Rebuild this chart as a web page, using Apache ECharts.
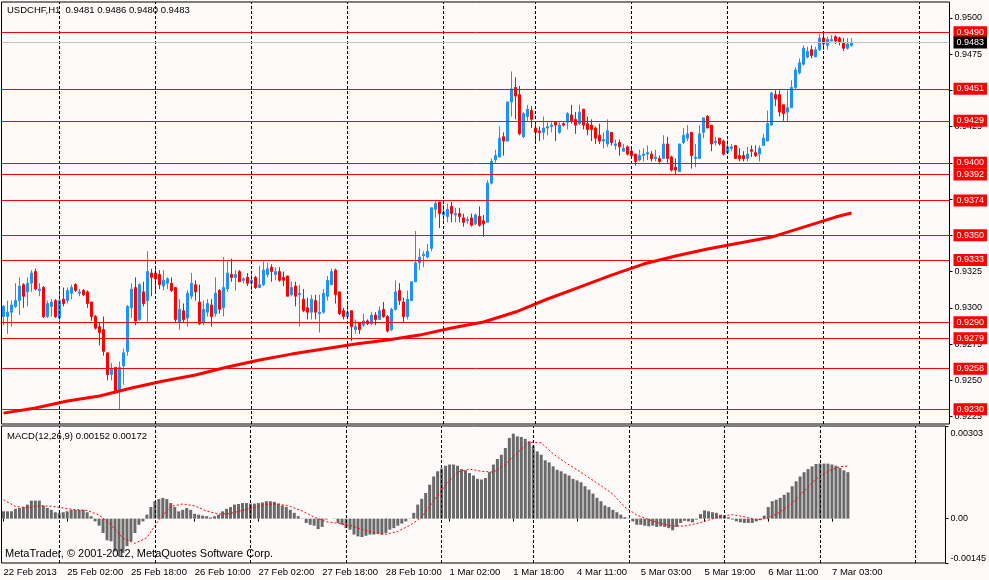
<!DOCTYPE html>
<html><head><meta charset="utf-8">
<script src="https://cdn.jsdelivr.net/npm/echarts@6/dist/echarts.min.js"></script>
<style>html,body{margin:0;padding:0;background:#FFFAFA;}#c{width:989px;height:580px;}</style>
</head><body><div id="c"></div>
<script>
// x tick labels (one every 16 hourly bars)
const tickLabels = ['22 Feb 2013','25 Feb 02:00','25 Feb 18:00','26 Feb 10:00','27 Feb 02:00','27 Feb 18:00','28 Feb 10:00','1 Mar 02:00','1 Mar 18:00','4 Mar 11:00','5 Mar 03:00','5 Mar 19:00','6 Mar 11:00','7 Mar 03:00'];
// right price axis ticks
const priceTicks = [0.9225,0.9250,0.9275,0.9300,0.9325,0.9350,0.9375,0.9400,0.9425,0.9450,0.9475,0.9500];
// horizontal levels
const levels = [0.9490,0.9451,0.9429,0.9400,0.9392,0.9374,0.9350,0.9333,0.9290,0.9279,0.9258,0.9230];
const bidPrice = 0.9483;
// MACD axis ticks
const macdTicks = [0.00303, 0, -0.00145];
// vertical grid bar slots
const gridLineIdx = [14,38,62,86,110,133,157,181,205,229];

// H1 candles: [open, close, low, high]
const ohlc = [
[0.9294,0.9301,0.9288,0.9302],[0.9294,0.9297,0.9282,0.9305],[0.9297,0.9302,0.9287,0.9305],[0.9301,0.9305,0.9300,0.9317],[0.9305,0.9315,0.9295,0.9321],
[0.9316,0.9308,0.9300,0.9317],[0.9311,0.9317,0.9301,0.9321],[0.9317,0.9324,0.9311,0.9326],[0.9325,0.9313,0.9312,0.9327],[0.9312,0.9313,0.9308,0.9317],
[0.9314,0.9294,0.9293,0.9315],[0.9294,0.9303,0.9293,0.9305],[0.9301,0.9304,0.9294,0.9306],[0.9305,0.9294,0.9293,0.9306],[0.9293,0.9305,0.9290,0.9314],
[0.9306,0.9303,0.9301,0.9314],[0.9305,0.9312,0.9303,0.9314],[0.9310,0.9314,0.9306,0.9316],[0.9316,0.9312,0.9311,0.9317],[0.9310,0.9311,0.9308,0.9313],
[0.9312,0.9309,0.9308,0.9313],[0.9311,0.9303,0.9300,0.9312],[0.9304,0.9294,0.9291,0.9304],[0.9294,0.9286,0.9285,0.9295],[0.9287,0.9283,0.9274,0.9290],
[0.9285,0.9270,0.9267,0.9294],[0.9269,0.9254,0.9250,0.9269],[0.9254,0.9258,0.9250,0.9262],[0.9259,0.9242,0.9241,0.9259],[0.9243,0.9259,0.9230,0.9263],
[0.9260,0.9269,0.9247,0.9272],[0.9270,0.9301,0.9267,0.9302],[0.9300,0.9313,0.9293,0.9317],[0.9314,0.9291,0.9288,0.9321],[0.9292,0.9316,0.9291,0.9317],
[0.9311,0.9303,0.9301,0.9318],[0.9305,0.9325,0.9290,0.9339],[0.9324,0.9321,0.9308,0.9327],[0.9324,0.9320,0.9311,0.9328],[0.9323,0.9316,0.9313,0.9326],
[0.9315,0.9319,0.9312,0.9326],[0.9317,0.9320,0.9313,0.9321],[0.9317,0.9312,0.9311,0.9321],[0.9314,0.9292,0.9290,0.9314],[0.9290,0.9299,0.9285,0.9306],
[0.9298,0.9292,0.9290,0.9303],[0.9293,0.9310,0.9287,0.9312],[0.9308,0.9317,0.9306,0.9324],[0.9316,0.9311,0.9305,0.9319],[0.9304,0.9289,0.9288,0.9316],
[0.9290,0.9299,0.9288,0.9305],[0.9297,0.9303,0.9294,0.9306],[0.9302,0.9294,0.9287,0.9306],[0.9296,0.9310,0.9294,0.9321],[0.9312,0.9299,0.9296,0.9313],
[0.9300,0.9314,0.9294,0.9335],[0.9313,0.9324,0.9311,0.9332],[0.9323,0.9321,0.9318,0.9334],[0.9321,0.9323,0.9312,0.9326],[0.9325,0.9318,0.9318,0.9326],
[0.9319,0.9320,0.9317,0.9321],[0.9321,0.9317,0.9315,0.9324],[0.9317,0.9319,0.9312,0.9323],[0.9321,0.9314,0.9313,0.9322],[0.9314,0.9316,0.9314,0.9329],
[0.9316,0.9326,0.9315,0.9332],[0.9323,0.9327,0.9321,0.9331],[0.9328,0.9325,0.9318,0.9330],[0.9323,0.9325,0.9319,0.9328],[0.9325,0.9319,0.9318,0.9328],
[0.9321,0.9319,0.9315,0.9325],[0.9322,0.9308,0.9308,0.9322],[0.9309,0.9314,0.9308,0.9318],[0.9315,0.9308,0.9301,0.9318],[0.9309,0.9310,0.9287,0.9316],
[0.9306,0.9298,0.9297,0.9313],[0.9300,0.9297,0.9292,0.9307],[0.9297,0.9306,0.9292,0.9309],[0.9305,0.9297,0.9292,0.9309],[0.9296,0.9297,0.9283,0.9309],
[0.9297,0.9310,0.9296,0.9313],[0.9308,0.9319,0.9305,0.9322],[0.9316,0.9325,0.9316,0.9327],[0.9326,0.9309,0.9303,0.9327],[0.9311,0.9296,0.9295,0.9311],
[0.9298,0.9294,0.9292,0.9300],[0.9294,0.9297,0.9293,0.9304],[0.9298,0.9287,0.9277,0.9298],[0.9285,0.9287,0.9282,0.9292],[0.9290,0.9285,0.9282,0.9290],
[0.9288,0.9291,0.9287,0.9296],[0.9291,0.9289,0.9288,0.9292],[0.9289,0.9295,0.9288,0.9297],[0.9295,0.9292,0.9288,0.9297],[0.9292,0.9298,0.9292,0.9301],
[0.9299,0.9294,0.9293,0.9304],[0.9294,0.9284,0.9283,0.9295],[0.9285,0.9299,0.9284,0.9300],[0.9299,0.9311,0.9298,0.9319],[0.9312,0.9305,0.9302,0.9317],
[0.9304,0.9294,0.9290,0.9307],[0.9294,0.9306,0.9292,0.9312],[0.9305,0.9318,0.9305,0.9318],[0.9318,0.9331,0.9318,0.9353],[0.9331,0.9335,0.9326,0.9341],
[0.9336,0.9337,0.9328,0.9339],[0.9335,0.9339,0.9334,0.9344],[0.9341,0.9369,0.9339,0.9369],[0.9368,0.9372,0.9362,0.9374],[0.9373,0.9365,0.9355,0.9373],
[0.9364,0.9366,0.9359,0.9371],[0.9363,0.9368,0.9359,0.9372],[0.9370,0.9365,0.9359,0.9373],[0.9364,0.9365,0.9359,0.9369],[0.9365,0.9363,0.9359,0.9369],
[0.9362,0.9359,0.9356,0.9365],[0.9360,0.9361,0.9358,0.9363],[0.9362,0.9357,0.9356,0.9365],[0.9358,0.9364,0.9357,0.9365],[0.9363,0.9357,0.9356,0.9370],
[0.9360,0.9358,0.9349,0.9364],[0.9359,0.9386,0.9359,0.9388],[0.9386,0.9401,0.9385,0.9403],[0.9402,0.9405,0.9400,0.9409],[0.9404,0.9417,0.9404,0.9425],
[0.9418,0.9415,0.9405,0.9421],[0.9415,0.9442,0.9415,0.9442],[0.9442,0.9451,0.9432,0.9463],[0.9452,0.9446,0.9430,0.9459],[0.9447,0.9420,0.9419,0.9453],
[0.9418,0.9434,0.9417,0.9435],[0.9432,0.9437,0.9429,0.9440],[0.9436,0.9430,0.9424,0.9439],[0.9424,0.9421,0.9415,0.9428],[0.9422,0.9421,0.9415,0.9425],
[0.9421,0.9424,0.9416,0.9432],[0.9424,0.9425,0.9419,0.9428],[0.9425,0.9426,0.9421,0.9428],[0.9428,0.9426,0.9415,0.9428],[0.9421,0.9426,0.9420,0.9428],
[0.9427,0.9426,0.9425,0.9428],[0.9428,0.9434,0.9423,0.9435],[0.9433,0.9429,0.9427,0.9440],[0.9430,0.9426,0.9420,0.9435],[0.9427,0.9435,0.9426,0.9440],
[0.9437,0.9426,0.9423,0.9437],[0.9427,0.9423,0.9419,0.9432],[0.9426,0.9423,0.9415,0.9430],[0.9424,0.9417,0.9413,0.9425],[0.9419,0.9415,0.9413,0.9427],
[0.9415,0.9416,0.9410,0.9421],[0.9413,0.9422,0.9411,0.9430],[0.9421,0.9414,0.9412,0.9421],[0.9412,0.9413,0.9409,0.9416],[0.9414,0.9411,0.9405,0.9416],
[0.9408,0.9410,0.9408,0.9413],[0.9411,0.9406,0.9405,0.9412],[0.9408,0.9405,0.9404,0.9410],[0.9406,0.9401,0.9398,0.9406],[0.9402,0.9405,0.9401,0.9409],
[0.9405,0.9406,0.9401,0.9410],[0.9406,0.9407,0.9402,0.9412],[0.9406,0.9403,0.9401,0.9408],[0.9403,0.9404,0.9401,0.9409],[0.9403,0.9401,0.9399,0.9405],
[0.9403,0.9413,0.9403,0.9419],[0.9413,0.9403,0.9400,0.9418],[0.9404,0.9395,0.9394,0.9405],[0.9397,0.9395,0.9392,0.9403],[0.9394,0.9413,0.9394,0.9413],
[0.9414,0.9419,0.9413,0.9424],[0.9417,0.9420,0.9415,0.9426],[0.9421,0.9405,0.9396,0.9421],[0.9403,0.9404,0.9397,0.9413],[0.9403,0.9420,0.9403,0.9426],
[0.9421,0.9431,0.9417,0.9431],[0.9432,0.9424,0.9424,0.9433],[0.9426,0.9413,0.9408,0.9426],[0.9414,0.9415,0.9412,0.9418],[0.9417,0.9413,0.9412,0.9417],
[0.9415,0.9406,0.9405,0.9416],[0.9407,0.9411,0.9406,0.9416],[0.9410,0.9411,0.9408,0.9413],[0.9412,0.9403,0.9403,0.9412],[0.9405,0.9403,0.9401,0.9410],
[0.9405,0.9403,0.9401,0.9408],[0.9403,0.9406,0.9401,0.9411],[0.9409,0.9408,0.9404,0.9412],[0.9407,0.9405,0.9404,0.9412],[0.9406,0.9410,0.9401,0.9412],
[0.9412,0.9417,0.9412,0.9420],[0.9415,0.9427,0.9415,0.9436],[0.9426,0.9448,0.9426,0.9449],[0.9447,0.9444,0.9439,0.9450],[0.9447,0.9435,0.9432,0.9450],
[0.9440,0.9434,0.9429,0.9440],[0.9435,0.9438,0.9428,0.9450],[0.9438,0.9452,0.9438,0.9457],[0.9452,0.9464,0.9451,0.9466],[0.9462,0.9469,0.9461,0.9472],
[0.9468,0.9479,0.9467,0.9481],[0.9473,0.9477,0.9472,0.9480],[0.9478,0.9474,0.9472,0.9481],[0.9473,0.9478,0.9473,0.9480],[0.9478,0.9486,0.9477,0.9489],
[0.9486,0.9482,0.9478,0.9489],[0.9481,0.9485,0.9478,0.9487],[0.9484,0.9485,0.9484,0.9488],[0.9487,0.9484,0.9482,0.9488],[0.9486,0.9483,0.9481,0.9487],
[0.9483,0.9479,0.9477,0.9486],[0.9479,0.9482,0.9478,0.9486],[0.9481,0.9483,0.9480,0.9486]
];

// moving average read at bar slots
const maIdx = [0,8,16,24,32,40,48,56,64,72,80,88,96,104,112,120,128,136,144,152,160,168,176,184,192,200,208,212];
const maVal = [0.92274,0.92309,0.92357,0.92392,0.92447,0.92495,0.92537,0.92592,0.92640,0.92681,0.92716,0.92750,0.92778,0.92812,0.92861,0.92902,0.92971,0.93061,0.93143,0.93226,0.93302,0.93357,0.93406,0.93447,0.93488,0.93557,0.93626,0.93654];

// MACD main (histogram)
const macdMain = [
0.00024,0.00024,0.00024,0.00032,0.00035,0.00038,0.00046,0.00059,0.00059,0.00059,
0.00043,0.00035,0.00029,0.00021,0.00019,0.00021,0.00024,0.00029,0.00029,0.00029,
0.00029,0.00021,0.00008,-0.00009,-0.00023,-0.00047,-0.00071,-0.00074,-0.00107,-0.00123,
-0.00112,-0.00090,-0.00074,-0.00047,-0.00020,-0.00009,0.00013,0.00038,0.00057,0.00064,
0.00068,0.00064,0.00051,0.00038,0.00024,0.00029,0.00035,0.00029,0.00016,0.00013,
0.00010,0.00008,0.00004,0.00008,0.00013,0.00024,0.00032,0.00038,0.00046,0.00048,
0.00051,0.00051,0.00049,0.00049,0.00051,0.00053,0.00057,0.00057,0.00055,0.00049,
0.00043,0.00038,0.00029,0.00019,0.00008,0.00001,-0.00014,-0.00020,-0.00023,-0.00034,
-0.00027,-0.00003,0.00000,-0.00001,-0.00014,-0.00020,-0.00031,-0.00036,-0.00052,-0.00058,
-0.00060,-0.00056,-0.00052,-0.00052,-0.00049,-0.00052,-0.00047,-0.00036,-0.00031,-0.00023,
-0.00016,-0.00009,0.00001,0.00019,0.00046,0.00065,0.00084,0.00111,0.00138,0.00155,
0.00164,0.00173,0.00177,0.00177,0.00173,0.00162,0.00158,0.00149,0.00141,0.00130,
0.00128,0.00133,0.00152,0.00177,0.00195,0.00209,0.00231,0.00264,0.00278,0.00269,
0.00267,0.00261,0.00253,0.00239,0.00220,0.00209,0.00191,0.00184,0.00171,0.00160,
0.00155,0.00147,0.00141,0.00130,0.00125,0.00119,0.00106,0.00095,0.00082,0.00068,
0.00057,0.00043,0.00038,0.00029,0.00021,0.00013,0.00005,-0.00001,-0.00009,-0.00020,
-0.00020,-0.00023,-0.00025,-0.00023,-0.00027,-0.00025,-0.00027,-0.00031,-0.00038,-0.00027,
-0.00014,-0.00007,-0.00009,-0.00012,-0.00003,0.00015,0.00027,0.00024,0.00021,0.00019,
0.00013,0.00010,0.00005,-0.00003,-0.00009,-0.00012,-0.00014,-0.00014,-0.00014,-0.00009,
-0.00005,0.00010,0.00038,0.00057,0.00062,0.00068,0.00078,0.00086,0.00106,0.00122,
0.00138,0.00152,0.00162,0.00171,0.00179,0.00180,0.00180,0.00180,0.00177,0.00173,
0.00166,0.00158,0.00152
];

// MACD signal read at bar slots
const sigIdx = [0,3,6,9,12,15,18,21,24,27,30,33,36,39,42,45,48,51,54,57,60,63,66,69,72,75,78,81,84,87,90,93,96,99,102,105,108,111,114,117,120,123,126,129,132,135,138,141,144,147,150,153,156,159,162,165,168,171,174,177,180,183,186,189,192,195,198,201,204,207,210,212];
const sigVal = [
0.00062,0.00040,0.00036,0.00042,0.00041,0.00035,0.00029,0.00027,0.00012,-0.00020,
-0.00064,-0.00081,-0.00062,-0.00004,0.00040,0.00048,0.00042,0.00025,0.00015,0.00017,
0.00027,0.00037,0.00047,0.00048,0.00040,0.00025,0.00005,-0.00010,-0.00015,-0.00022,
-0.00035,-0.00046,-0.00051,-0.00042,-0.00022,0.00005,0.00058,0.00110,0.00152,0.00162,
0.00155,0.00152,0.00178,0.00215,0.00250,0.00248,0.00212,0.00184,0.00160,0.00134,
0.00108,0.00080,0.00038,0.00012,-0.00003,-0.00016,-0.00024,-0.00024,-0.00016,-0.00005,
0.00008,0.00013,0.00006,-0.00004,0.00002,0.00022,0.00050,0.00090,0.00130,0.00155,
0.00170,0.00172
];

const N = 237; // bar slots across the window
const cats = Array.from({length: N}, (_, i) => String(i));
const FONT = 'Liberation Sans, Arial, sans-serif';
const last = ohlc[ohlc.length - 1];
const lastMain = macdMain[macdMain.length - 1];
const lastSig = sigVal[sigVal.length - 1];
const showTick = (i) => i % 16 === 0 && (i / 16) < tickLabels.length;

const gridLines = (xi, yi) => ({
  type: 'line', xAxisIndex: xi, yAxisIndex: yi, data: [], z: 1, silent: true,
  markLine: {
    symbol: ['none', 'none'], silent: true, label: {show: false},
    lineStyle: {color: '#000', type: [3, 2], width: 1},
    data: gridLineIdx.map(i => ({xAxis: i}))
  }
});

const levelLabel = {
  show: true, position: 'end', formatter: '{b}', distance: 4,
  fontSize: 9, fontFamily: FONT, padding: [2, 3, 1, 3], lineHeight: 9
};

const option = {
  animation: false,
  backgroundColor: '#FFFAFA',
  grid: [
    {left: 1.5, top: 2, width: 948, height: 422, show: true, borderColor: '#000', borderWidth: 1, backgroundColor: 'transparent'},
    {left: 1.5, top: 426, width: 948, height: 137, show: true, borderColor: '#000', borderWidth: 1, backgroundColor: 'transparent'}
  ],
  xAxis: [
    {gridIndex: 0, type: 'category', data: cats, boundaryGap: true,
     axisLine: {show: false}, axisTick: {show: false}, axisLabel: {show: false}, splitLine: {show: false}},
    {gridIndex: 1, type: 'category', data: cats, boundaryGap: true,
     axisLine: {show: false},
     axisTick: {show: true, alignWithLabel: true, interval: showTick, length: 3, lineStyle: {color: '#000'}},
     axisLabel: {interval: showTick, formatter: (v, i) => tickLabels[i / 16] || '', align: 'left',
                 margin: 4, fontSize: 9.5, color: '#000', fontFamily: FONT},
     splitLine: {show: false}}
  ],
  yAxis: [
    {gridIndex: 0, type: 'value', position: 'right', min: 0.92199, max: 0.95109,
     axisLine: {show: false}, splitLine: {show: false},
     axisTick: {show: true, customValues: priceTicks, length: 3, lineStyle: {color: '#000'}},
     axisLabel: {customValues: priceTicks, formatter: v => v.toFixed(4), margin: 5,
                 fontSize: 9, color: '#000', fontFamily: FONT}},
    {gridIndex: 1, type: 'value', position: 'right', min: -0.00145, max: 0.00303,
     axisLine: {show: false}, splitLine: {show: false},
     axisTick: {show: true, customValues: macdTicks, length: 3, lineStyle: {color: '#000'}},
     axisLabel: {customValues: macdTicks, margin: 5, fontSize: 9, color: '#000', fontFamily: FONT,
                 formatter: v => v === 0 ? '0.00' : (v > 0 ? '{t|' + v.toFixed(5) + '}' : '{b|' + v.toFixed(5) + '}'),
                 rich: {t: {padding: [16, 0, 0, 0], fontSize: 9, fontFamily: FONT, color: '#000'},
                        b: {padding: [0, 0, 8, 0], fontSize: 9, fontFamily: FONT, color: '#000'}}}}
  ],
  graphic: [
    {type: 'text', left: 7, top: 5, z: 100,
     style: {text: 'USDCHF,H1  ' + last[0].toFixed(4) + ' ' + last[3].toFixed(4) + ' ' + last[2].toFixed(4) + ' ' + last[1].toFixed(4),
             fill: '#000', font: '9.5px ' + FONT}},
    {type: 'text', left: 7, top: 431, z: 100,
     style: {text: 'MACD(12,26,9) ' + lastMain.toFixed(5) + ' ' + lastSig.toFixed(5), fill: '#000', font: '9.5px ' + FONT}},
    {type: 'text', left: 5, top: 548, z: 100,
     style: {text: 'MetaTrader, \u00a9 2001-2012, MetaQuotes Software Corp.', fill: '#000', font: '11px ' + FONT}}
  ],
  series: [
    gridLines(0, 0),
    {type: 'candlestick', xAxisIndex: 0, yAxisIndex: 0, data: ohlc, barWidth: 2, z: 3,
     itemStyle: {color: '#1E90FF', color0: '#FF0000', borderColor: '#1E90FF', borderColor0: '#FF0000', borderWidth: 1},
     markLine: {
       symbol: ['none', 'none'], silent: true, precision: 4,
       data: levels.map(v => ({yAxis: v, name: v.toFixed(4),
               lineStyle: {color: '#FF0000', width: 1, type: 'solid'},
               label: Object.assign({}, levelLabel, {backgroundColor: '#FF0000', color: '#fff'})}))
         .concat([{yAxis: bidPrice, name: bidPrice.toFixed(4),
               lineStyle: {color: '#C0C0C0', width: 1, type: 'solid'},
               label: Object.assign({}, levelLabel, {backgroundColor: '#000', color: '#fff'})}])
     }},
    {type: 'line', xAxisIndex: 0, yAxisIndex: 0, data: maIdx.map((x, k) => [x, maVal[k]]),
     showSymbol: false, silent: true, z: 4, lineStyle: {color: '#FF0000', width: 3}},
    gridLines(1, 1),
    {type: 'bar', xAxisIndex: 1, yAxisIndex: 1, data: macdMain, barWidth: 3, z: 2, silent: true,
     itemStyle: {color: '#696969'}},
    {type: 'line', xAxisIndex: 1, yAxisIndex: 1, data: sigIdx.map((x, k) => [x, sigVal[k]]),
     showSymbol: false, silent: true, z: 3, lineStyle: {color: '#FF0000', width: 1, type: [2, 2]}}
  ]
};
const chart = echarts.init(document.getElementById('c'));
chart.setOption(option);
</script>
</body></html>
